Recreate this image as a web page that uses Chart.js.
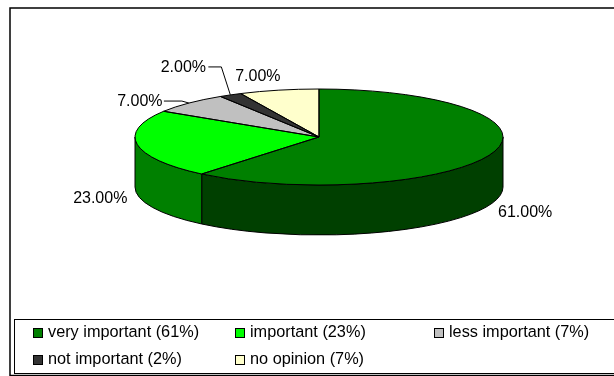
<!DOCTYPE html>
<html>
<head>
<meta charset="utf-8">
<script src="https://cdn.jsdelivr.net/npm/chart.js@4"></script>
<style>
  html, body { margin: 0; padding: 0; background: #fff; }
  canvas { display: block; }
</style>
</head>
<body>
<canvas id="PieChart" width="614" height="376"></canvas>
<script>
var categories = ["very important", "important", "less important", "not important", "no opinion"];
var values = [61, 23, 7, 2, 7];
var topColors = ["#008000", "#00ff00", "#c0c0c0", "#333333", "#ffffcc"];
var sideColors = ["#004000", "#008000", "#606060", "#1a1a1a", "#808066"];

// label placement relative to the point on the rim at each slice's middle angle
var labelShift = [[33, 59], [-37, 54], [-49, -1], [-47, -27], [-21, -14]];
var leaderShift = [null, null, [[-7, -2], [-25, -2]], [[-9, -28], [-22, -28]], null];

var font = "Liberation Sans, Arial, sans-serif";
var squash = 48 / 184;
var depth = 50;

function rimPoint(arc, angle) {
  return { x: arc.x + arc.outerRadius * Math.cos(angle), y: arc.y + arc.outerRadius * squash * Math.sin(angle) };
}

// the front wall of the pie, from the parts of each slice facing the viewer
function drawWalls(chart) {
  var ctx = chart.ctx;
  chart.getDatasetMeta(0).data.forEach(function (arc, i) {
    var a = Math.max(arc.startAngle, 0), b = Math.min(arc.endAngle, Math.PI);
    if (b <= a) return;
    var rx = arc.outerRadius, ry = rx * squash;
    ctx.beginPath();
    ctx.ellipse(arc.x, arc.y, rx, ry, 0, a, b);
    ctx.ellipse(arc.x, arc.y + depth, rx, ry, 0, b, a, true);
    ctx.closePath();
    ctx.fillStyle = sideColors[i];
    ctx.fill();
    ctx.strokeStyle = "#000";
    ctx.lineWidth = 1;
    ctx.stroke();
  });
}

function drawOutlines(chart) {
  var ctx = chart.ctx;
  chart.getDatasetMeta(0).data.forEach(function (arc) {
    var rx = arc.outerRadius, ry = rx * squash;
    ctx.beginPath();
    ctx.moveTo(arc.x, arc.y);
    ctx.ellipse(arc.x, arc.y, rx, ry, 0, arc.startAngle, arc.endAngle);
    ctx.closePath();
    ctx.strokeStyle = "#000";
    ctx.lineWidth = 1;
    ctx.stroke();
  });
}

function drawLabels(chart) {
  var ctx = chart.ctx;
  ctx.font = "16px " + font;
  ctx.fillStyle = "#000";
  ctx.textAlign = "center";
  ctx.textBaseline = "middle";
  chart.getDatasetMeta(0).data.forEach(function (arc, i) {
    var p = rimPoint(arc, (arc.startAngle + arc.endAngle) / 2);
    ctx.fillText(values[i].toFixed(2) + "%", p.x + labelShift[i][0], p.y + labelShift[i][1]);
    if (leaderShift[i]) {
      ctx.beginPath();
      ctx.moveTo(p.x, p.y);
      leaderShift[i].forEach(function (s) { ctx.lineTo(p.x + s[0], p.y + s[1]); });
      ctx.strokeStyle = "#000";
      ctx.lineWidth = 1;
      ctx.stroke();
    }
  });
}

function drawFrame(chart) {
  var ctx = chart.ctx;
  ctx.strokeStyle = "#000";
  ctx.lineWidth = 1.5;
  ctx.beginPath();
  ctx.moveTo(10, 376);
  ctx.lineTo(10, 8);
  ctx.lineTo(614, 8);
  ctx.moveTo(10, 375.5);
  ctx.lineTo(614, 375.5);
  ctx.stroke();
}

function drawLegend(chart) {
  var ctx = chart.ctx;
  var colX = [33.5, 235.5, 434.5];
  var rowY = [333, 360];
  ctx.strokeStyle = "#000";
  ctx.lineWidth = 1;
  ctx.strokeRect(14.5, 319.5, 620, 54);
  ctx.font = "16.3px " + font;
  ctx.textAlign = "left";
  ctx.textBaseline = "middle";
  categories.forEach(function (name, i) {
    var x = colX[i % 3], y = rowY[Math.floor(i / 3)];
    ctx.fillStyle = topColors[i];
    ctx.fillRect(x, y - 4.5, 9, 9);
    ctx.strokeStyle = "#000";
    ctx.strokeRect(x, y - 4.5, 9, 9);
    ctx.fillStyle = "#000";
    ctx.fillText(name + " (" + values[i] + "%)", x + 14.5, y);
  });
}

var pie3d = {
  id: "pie3d",
  beforeDatasetsDraw: function (chart) {
    var ctx = chart.ctx;
    var arc = chart.getDatasetMeta(0).data[0];
    drawFrame(chart);
    drawWalls(chart);
    ctx.save();
    ctx.translate(arc.x, arc.y);
    ctx.scale(1, squash);
    ctx.translate(-arc.x, -arc.y);
  },
  afterDatasetsDraw: function (chart) {
    chart.ctx.restore();
    drawOutlines(chart);
    drawLabels(chart);
    drawLegend(chart);
  }
};

new Chart("PieChart", {
  type: "pie",
  data: {
    labels: categories,
    datasets: [{
      data: values,
      backgroundColor: topColors,
      borderWidth: 0
    }]
  },
  options: {
    responsive: false,
    animation: false,
    radius: 184,
    layout: { padding: { left: 24, right: 0, top: 0, bottom: 102 } },
    plugins: {
      legend: { display: false },
      tooltip: { enabled: false }
    }
  },
  plugins: [pie3d]
});
</script>
</body>
</html>
